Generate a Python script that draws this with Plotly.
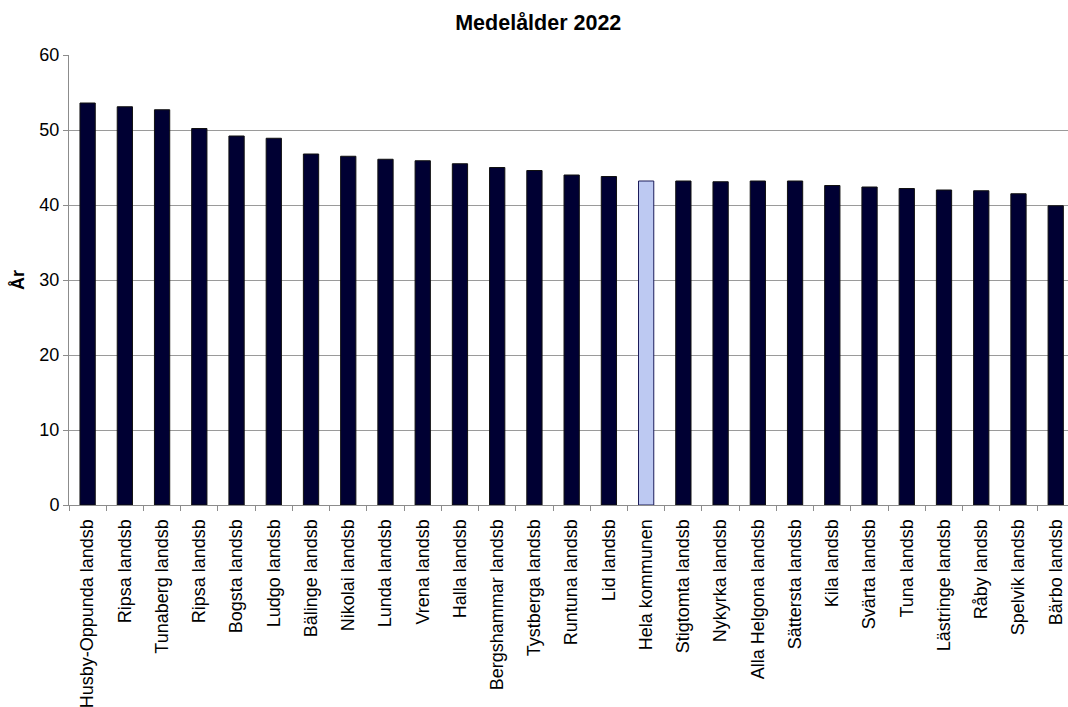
import plotly.graph_objects as go

# Average age per district, 2022
districts = [
    "Husby-Oppunda landsb", "Ripsa landsb", "Tunaberg landsb", "Ripsa landsb",
    "Bogsta landsb", "Ludgo landsb", "Bälinge landsb", "Nikolai landsb",
    "Lunda landsb", "Vrena landsb", "Halla landsb", "Bergshammar landsb",
    "Tystberga landsb", "Runtuna landsb", "Lid landsb", "Hela kommunen",
    "Stigtomta landsb", "Nykyrka landsb", "Alla Helgona landsb", "Sättersta landsb",
    "Kila landsb", "Svärta landsb", "Tuna landsb", "Lästringe landsb",
    "Råby landsb", "Spelvik landsb", "Bärbo landsb",
]
mean_age = [
    53.6, 53.1, 52.7, 50.2, 49.2, 48.9, 46.8, 46.5, 46.1, 45.9,
    45.5, 45.0, 44.6, 44.0, 43.8, 43.2, 43.2, 43.1, 43.2, 43.2,
    42.6, 42.4, 42.2, 42.0, 41.9, 41.5, 39.9,
]
highlight = "Hela kommunen"

# Unique x keys so the repeated "Ripsa landsb" gets its own bar
x_keys = list(range(len(districts)))
boundaries = [i - 0.5 for i in range(len(districts) + 1)]
fill = ["#BDC9F2" if d == highlight else "#000033" for d in districts]
edge = ["#1C1C5A" if d == highlight else "#111111" for d in districts]

fig = go.Figure(
    go.Bar(
        x=x_keys,
        y=mean_age,
        marker=dict(color=fill, line=dict(color=edge, width=1)),
        width=0.41,
        hoverinfo="x+y",
    )
)

font_family = "Liberation Sans, Arial, sans-serif"
axis_grey = "#8C8C8C"

fig.update_layout(
    width=1068,
    height=707,
    margin=dict(l=69, r=0, t=55, b=202),
    paper_bgcolor="white",
    plot_bgcolor="white",
    showlegend=False,
    font=dict(family=font_family, size=18, color="#000000"),
    title=dict(
        text="<b>Medelålder 2022</b>",
        x=0.504,
        xanchor="center",
        y=0.968,
        yanchor="middle",
        font=dict(size=21.5, family=font_family, color="#000000"),
    ),
)

fig.update_xaxes(
    type="linear",
    tickmode="array",
    tickvals=x_keys,
    ticktext=districts,
    tickangle=-90,
    range=[-0.5, 26.33],
    showgrid=False,
    showline=True,
    linecolor=axis_grey,
    linewidth=1,
    ticks="outside",
    ticklen=0,
    tickcolor="rgba(0,0,0,0)",
    ticklabelstandoff=6,
    # tick marks sit on the category boundaries
    minor=dict(
        tickmode="array",
        tickvals=boundaries,
        ticks="outside",
        ticklen=5,
        tickcolor=axis_grey,
        tickwidth=1,
        showgrid=False,
    ),
    tickfont=dict(size=18, family=font_family, color="#000000"),
    zeroline=False,
)

fig.update_yaxes(
    range=[0, 60],
    tickmode="linear",
    tick0=0,
    dtick=10,
    showgrid=True,
    gridcolor="#9A9A9A",
    gridwidth=1,
    showline=True,
    linecolor=axis_grey,
    linewidth=1,
    ticks="outside",
    ticklen=5,
    tickcolor=axis_grey,
    tickfont=dict(size=18, family=font_family, color="#000000"),
    title=dict(text="<b>År</b>", font=dict(size=18, family=font_family), standoff=10),
    zeroline=False,
)

fig.write_html("out.html")
